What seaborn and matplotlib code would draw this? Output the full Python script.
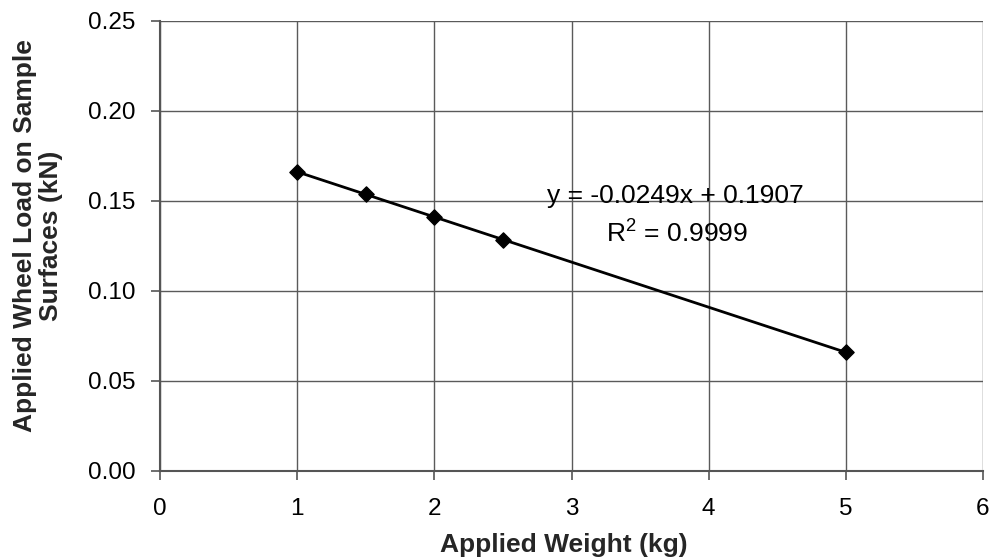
import matplotlib
matplotlib.use("Agg")
import matplotlib.pyplot as plt
import seaborn as sns
import pandas as pd

# Measured wheel load versus applied weight
applied_weight_kg = [1.0, 1.5, 2.0, 2.5, 5.0]
wheel_load_kN = [0.166, 0.154, 0.141, 0.128, 0.066]
x_ticks = [0, 1, 2, 3, 4, 5, 6]
y_ticks = [0.00, 0.05, 0.10, 0.15, 0.20, 0.25]
equation_text = "y = -0.0249x + 0.1907"
r2_text = "R$^2$ = 0.9999"

df = pd.DataFrame({"weight": applied_weight_kg, "load": wheel_load_kN})

sns.set_theme(style="white")
plt.rcParams["font.family"] = ["Liberation Sans", "DejaVu Sans"]
plt.rcParams["mathtext.fontset"] = "custom"
plt.rcParams["mathtext.rm"] = "Liberation Sans"

fig = plt.figure(figsize=(10.01, 5.6), dpi=100)
ax = fig.add_axes([0.16, 0.159, 0.822, 0.804])

sns.regplot(data=df, x="weight", y="load", ax=ax, ci=None, truncate=True,
            marker="D", scatter_kws={"s": 60, "color": "black", "alpha": 1.0, "zorder": 3},
            line_kws={"color": "black", "lw": 2.0, "zorder": 2})

ax.set_xlim(0, 6)
ax.set_ylim(0, 0.25)
ax.set_xticks(x_ticks)
ax.set_yticks(y_ticks)
ax.set_xticklabels([str(t) for t in x_ticks])
ax.set_yticklabels([f"{t:.2f}" for t in y_ticks])
ax.grid(True, color="#5a5a5a", lw=1.0)
ax.set_axisbelow(True)

for side in ["top", "right"]:
    ax.spines[side].set_visible(False)
for side in ["left", "bottom"]:
    ax.spines[side].set_color("#555555")
    ax.spines[side].set_linewidth(1.5)

ax.tick_params(axis="both", which="major", direction="out", length=6.5,
               width=1.2, color="#555555", labelsize=17.5, labelcolor="black",
               bottom=True, left=True)
ax.tick_params(axis="x", pad=13)
ax.tick_params(axis="y", pad=11)

ax.set_xlabel("Applied Weight (kg)", fontsize=19, fontweight="bold")
ax.xaxis.set_label_coords(0.49, -0.137, transform=ax.transAxes)
ax.xaxis.label.set_va("top")
ax.set_ylabel("Applied Wheel Load on Sample\nSurfaces (kN)", fontsize=19,
              fontweight="bold", linespacing=1.1)
ax.yaxis.set_label_coords(-0.118, 0.522)

ax.text(3.76, 0.1489, equation_text, fontsize=19, ha="center", va="baseline", color="black")
ax.text(3.77, 0.1272, r2_text, fontsize=19, ha="center", va="baseline", color="black")

fig.savefig("out.png", dpi=100)
